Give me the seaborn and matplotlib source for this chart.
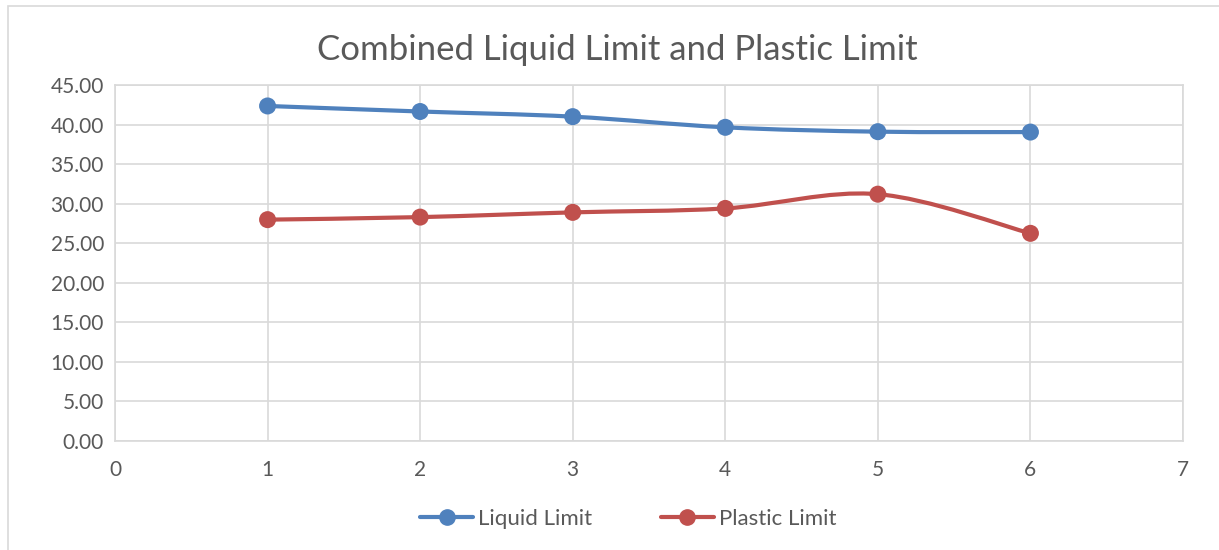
import numpy as np
import pandas as pd
import matplotlib
matplotlib.use("Agg")
import matplotlib.pyplot as plt
from matplotlib.path import Path
from matplotlib.patches import PathPatch, Rectangle
from matplotlib.lines import Line2D
import seaborn as sns

# ---- data ----
x_values = [1, 2, 3, 4, 5, 6]
liquid_limit = [42.35, 41.65, 41.0, 39.65, 39.1, 39.05]
plastic_limit = [27.98, 28.3, 28.9, 29.4, 31.2, 26.25]
series_names = ["Liquid Limit", "Plastic Limit"]
colors = ["#4F81BD", "#C0504D"]
title = "Combined Liquid Limit and Plastic Limit"
y_ticks = [0, 5, 10, 15, 20, 25, 30, 35, 40, 45]
x_ticks = [0, 1, 2, 3, 4, 5, 6, 7]

sns.set_theme(style="white")
plt.rcParams["font.family"] = ["Lato", "DejaVu Sans"]
text_color = "#595959"
grid_color = "#D9D9D9"

W, H = 1219, 550
fig = plt.figure(figsize=(W / 100, H / 100), dpi=100)
ax = fig.add_axes([115 / W, 1 - 441 / H, (1183 - 115) / W, (441 - 85) / H])

# outer chart border
fig.patches.append(Rectangle((8 / W, -0.1), 1.2, 1 - 6 / H + 0.1, transform=fig.transFigure,
                             fill=False, edgecolor=grid_color, linewidth=1.2))

df = pd.DataFrame({"x": x_values * 2,
                   "value": liquid_limit + plastic_limit,
                   "series": [series_names[0]] * len(x_values) + [series_names[1]] * len(x_values)})


def smooth_path(xs, ys, t=1 / 6):
    pts = np.column_stack([xs, ys]).astype(float)
    n = len(pts)
    verts = [pts[0]]
    codes = [Path.MOVETO]
    for i in range(n - 1):
        p0 = pts[i - 1] if i > 0 else pts[i]
        p1 = pts[i]
        p2 = pts[i + 1]
        p3 = pts[i + 2] if i + 2 < n else pts[i + 1]
        c1 = p1 + (p2 - p0) * t
        c2 = p2 - (p3 - p1) * t
        verts += [c1, c2, p2]
        codes += [Path.CURVE4] * 3
    return Path(verts, codes)


for name, col in zip(series_names, colors):
    sub = df[df["series"] == name]
    patch = PathPatch(smooth_path(sub["x"].values, sub["value"].values), facecolor="none",
                      edgecolor=col, linewidth=3, capstyle="round", zorder=3)
    ax.add_patch(patch)

sns.scatterplot(data=df, x="x", y="value", hue="series", palette=colors, s=150,
                edgecolor="none", ax=ax, legend=False, zorder=4)

ax.set_xlim(0, 7)
ax.set_ylim(0, 45)
ax.set_xticks(x_ticks)
ax.set_yticks(y_ticks)
ax.set_yticklabels([f"{v:.2f}" for v in y_ticks])
ax.grid(True, color=grid_color, linewidth=1.2)
ax.set_axisbelow(True)
for s in ax.spines.values():
    s.set_color(grid_color)
    s.set_linewidth(1.2)
ax.tick_params(axis="both", colors=text_color, labelsize=15, length=0)
ax.tick_params(axis="x", pad=14)
ax.tick_params(axis="y", pad=8)
ax.set_xlabel("")
ax.set_ylabel("")

fig.text(617 / W, 1 - 50 / H, title, ha="center", va="center", fontsize=25, color=text_color)

handles = [Line2D([0], [0], color=c, linewidth=3, marker="o", markersize=11) for c in colors]
fig.legend(handles, series_names, loc="center", bbox_to_anchor=(628 / W, 1 - 519 / H), ncol=2,
           frameon=False, fontsize=16, labelcolor=text_color, handlelength=2.4,
           columnspacing=3.1, handletextpad=0.2)

fig.savefig("out.png", dpi=100)
